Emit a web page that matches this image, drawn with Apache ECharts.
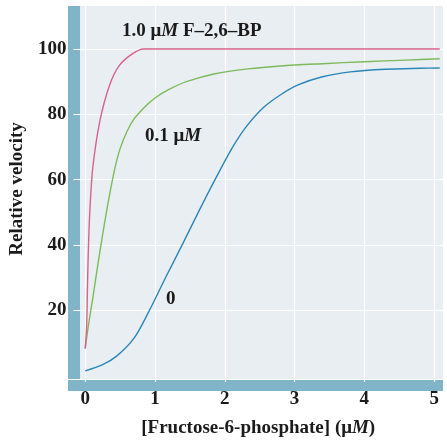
<!DOCTYPE html>
<html>
<head>
<meta charset="utf-8">
<script src="https://cdn.jsdelivr.net/npm/echarts@6/dist/echarts.min.js"></script>
<style>html,body{margin:0;padding:0;background:#fff}#c{width:447px;height:443px}</style>
</head>
<body>
<div id="c"></div>
<script>
// ---- data ----
const xTicks = [0, 1, 2, 3, 4, 5];
const yTicks = [20, 40, 60, 80, 100];

const x0 = [0, 0.25, 0.45, 0.7, 0.92, 1.15, 1.4, 1.62, 1.86, 2.1, 2.3, 2.55, 2.8, 3.05, 3.4, 3.8, 4.3, 4.8, 5.08];
const y0 = [1.5, 3.4, 6, 11.5, 20, 30, 40.5, 50, 60, 69.5, 76, 82, 86, 89, 91.5, 93, 93.8, 94.1, 94.2];

const x01 = [0, 0.05, 0.11, 0.21, 0.32, 0.42, 0.5, 0.6, 0.7, 0.85, 1.0, 1.2, 1.45, 1.86, 2.33, 2.8, 3.4, 4.0, 4.6, 5.08];
const y01 = [8.3, 16, 24, 38, 52, 63, 69.5, 74.8, 78.6, 82.2, 85, 87.6, 90, 92.4, 93.9, 94.8, 95.5, 96.1, 96.6, 97];

const x10 = [0, 0.02, 0.035, 0.05, 0.07, 0.11, 0.21, 0.35, 0.49, 0.68, 0.84, 1.5, 3, 5.08];
const y10 = [8.3, 15, 30, 42, 52, 64, 78, 89, 95, 98.6, 100, 100, 100, 100];

const labels = {
  high: '1.0 μ{i|M} F–2,6–BP',
  mid: '0.1 μ{i|M}',
  zero: '0',
  xName: '[Fructose-6-phosphate] (μ{i|M})',
  yName: 'Relative velocity'
};

const pair = (xs, ys) => xs.map((x, i) => [x, ys[i]]);

const FONT = '"Liberation Serif", "DejaVu Serif", serif';
const FS = 19;
const TXT = '#1b1b1b';
const rich = { i: { fontStyle: 'italic', fontWeight: 'bold', fontFamily: FONT, fontSize: FS, color: TXT } };

const chart = echarts.init(document.getElementById('c'));
const lineBase = { type: 'line', showSymbol: false, smooth: 0.3, z: 5 };

chart.setOption({
  animation: false,
  grid: { left: 68, right: 4, top: 6, bottom: 52, show: false },
  xAxis: {
    type: 'value', min: -0.1695, max: 5.127,
    axisLine: { show: false }, axisTick: { show: false, customValues: xTicks },
    axisLabel: { customValues: xTicks, margin: 8, fontFamily: FONT, fontWeight: 'bold', fontSize: FS, color: TXT },
    splitLine: { show: true, lineStyle: { color: '#ffffff', width: 1.2 } },
    name: labels.xName, nameLocation: 'middle', nameGap: 37,
    nameTextStyle: { fontFamily: FONT, fontWeight: 'bold', fontSize: FS, color: TXT, rich: rich }
  },
  yAxis: {
    type: 'value', min: -1.91, max: 113.15,
    axisLine: { show: false }, axisTick: { show: false, customValues: yTicks },
    axisLabel: { customValues: yTicks, margin: 7, fontFamily: FONT, fontWeight: 'bold', fontSize: FS, color: TXT },
    splitLine: { show: true, lineStyle: { color: '#ffffff', width: 1.2 } },
    name: labels.yName, nameLocation: 'middle', nameGap: 40,
    nameTextStyle: { fontFamily: FONT, fontWeight: 'bold', fontSize: FS, color: TXT, padding: [0, 0, 0, 10] }
  },
  graphic: [
    { type: 'rect', z: -20, shape: { x: 68, y: 6, width: 375, height: 385 }, style: { fill: '#e9eef3' } },
    { type: 'rect', z: -10, shape: { x: 68, y: 6, width: 12, height: 385 }, style: { fill: '#80b5c9' } },
    { type: 'rect', z: -10, shape: { x: 68, y: 380, width: 375, height: 11 }, style: { fill: '#80b5c9' } },
    { type: 'rect', z: -5, shape: { x: 68, y: 379, width: 375, height: 1 }, style: { fill: '#ffffff' } },
    { type: 'text', z: 10, left: 122, top: 22, style: { text: labels.high, rich: rich, font: 'bold ' + FS + 'px ' + FONT, fill: TXT } },
    { type: 'text', z: 10, left: 145, top: 127, style: { text: labels.mid, rich: rich, font: 'bold ' + FS + 'px ' + FONT, fill: TXT } },
    { type: 'text', z: 10, left: 166, top: 290, style: { text: labels.zero, font: 'bold ' + FS + 'px ' + FONT, fill: TXT } }
  ],
  series: [
    Object.assign({}, lineBase, { name: '0', data: pair(x0, y0), lineStyle: { color: '#2a86b8', width: 1.4 } }),
    Object.assign({}, lineBase, { name: '0.1', data: pair(x01, y01), lineStyle: { color: '#7cba5a', width: 1.4 } }),
    Object.assign({}, lineBase, { name: '1.0', data: pair(x10, y10), lineStyle: { color: '#d9628c', width: 1.4 } })
  ]
});
</script>
</body>
</html>
